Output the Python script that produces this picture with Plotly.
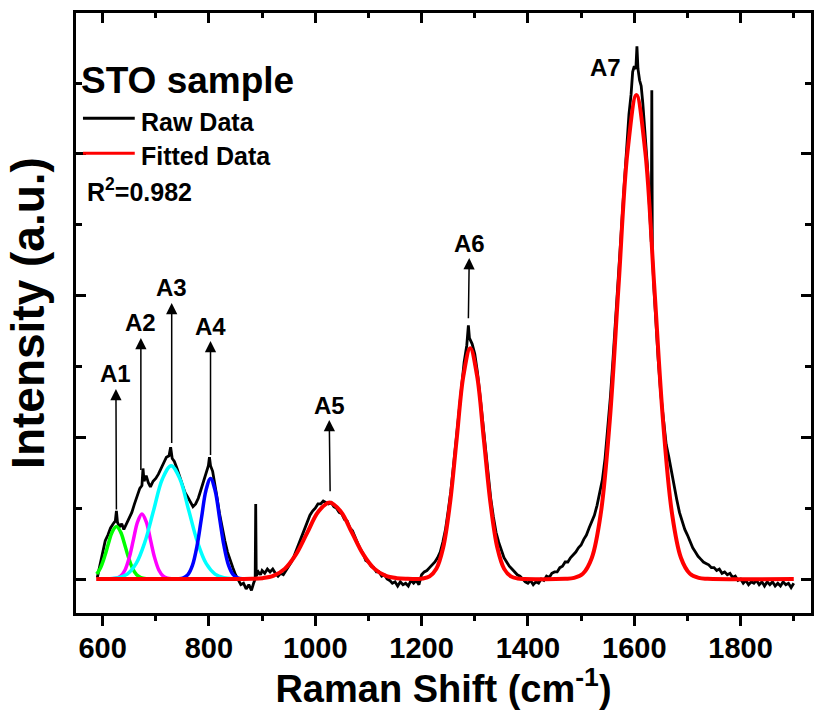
import plotly.graph_objects as go

# ---------------- data ----------------
raw_x = [590, 595, 600, 605, 610, 615, 620, 624, 626, 628, 632, 636, 640, 645, 650, 655, 660, 665, 670, 674,
         676, 678, 682, 686, 690, 695, 700, 705, 710, 715, 720, 725, 728, 731, 735, 740, 745, 750, 755, 760,
         765, 770, 775, 780, 785, 790, 795, 799, 801, 803, 807, 811, 815, 820, 825, 830, 835, 840, 845, 850,
         855, 860, 865, 870, 875, 880, 884, 887, 888, 889, 893, 897, 900, 905, 910, 915, 920, 925, 930, 935,
         940, 945, 950, 955, 960, 965, 970, 975, 980, 985, 990, 995, 1000, 1005, 1010, 1015, 1020, 1025, 1030, 1035,
         1040, 1045, 1050, 1055, 1060, 1065, 1070, 1075, 1080, 1085, 1090, 1095, 1100, 1105, 1110, 1115, 1120, 1125, 1130, 1135,
         1140, 1145, 1150, 1155, 1160, 1165, 1170, 1175, 1180, 1185, 1190, 1195, 1200, 1205, 1210, 1215, 1220, 1225, 1230, 1235,
         1240, 1245, 1250, 1255, 1260, 1265, 1270, 1275, 1280, 1285, 1288, 1290, 1295, 1300, 1305, 1310, 1315, 1320, 1325, 1330,
         1335, 1340, 1345, 1350, 1355, 1360, 1365, 1370, 1375, 1380, 1385, 1390, 1395, 1400, 1405, 1410, 1415, 1420, 1425, 1430,
         1435, 1440, 1445, 1450, 1455, 1460, 1465, 1470, 1475, 1480, 1485, 1490, 1495, 1500, 1505, 1510, 1515, 1520, 1525, 1530,
         1535, 1540, 1545, 1550, 1555, 1560, 1565, 1570, 1575, 1580, 1585, 1590, 1594, 1597, 1600, 1603, 1605, 1607, 1610, 1613,
         1616, 1620, 1625, 1630, 1632, 1633, 1634, 1637, 1640, 1645, 1650, 1655, 1660, 1665, 1670, 1675, 1680, 1685, 1690, 1695,
         1700, 1705, 1710, 1715, 1720, 1725, 1730, 1735, 1740, 1745, 1750, 1755, 1760, 1765, 1770, 1775, 1780, 1785, 1790, 1795,
         1800, 1805, 1810, 1815, 1820, 1825, 1830, 1835, 1840, 1845, 1850, 1855, 1860, 1865, 1870, 1875, 1880, 1885, 1890, 1895,
         1900]
raw_y = [0.01, 0.09, 0.19, 0.27, 0.31, 0.36, 0.39, 0.41, 0.48, 0.40, 0.37, 0.39, 0.35, 0.39, 0.43, 0.47, 0.53, 0.58, 0.64, 0.66,
         0.78, 0.69, 0.73, 0.68, 0.65, 0.69, 0.71, 0.74, 0.78, 0.82, 0.86, 0.87, 0.93, 0.85, 0.83, 0.78, 0.72, 0.66, 0.61, 0.58,
         0.54, 0.51, 0.53, 0.57, 0.63, 0.69, 0.75, 0.80, 0.86, 0.80, 0.76, 0.68, 0.58, 0.46, 0.36, 0.27, 0.19, 0.13, 0.08, 0.03,
         -0.01, -0.04, -0.03, -0.07, -0.04, -0.08, -0.03, 0.00, 0.53, 0.02, 0.05, 0.03, 0.06, 0.04, 0.07, 0.05, 0.07, 0.04, 0.02, 0.04,
         0.03, 0.06, 0.09, 0.12, 0.16, 0.21, 0.26, 0.31, 0.36, 0.40, 0.45, 0.48, 0.50, 0.53, 0.53, 0.55, 0.54, 0.53, 0.54, 0.51,
         0.50, 0.47, 0.46, 0.42, 0.41, 0.36, 0.34, 0.29, 0.25, 0.21, 0.18, 0.13, 0.12, 0.09, 0.08, 0.05, 0.05, 0.02, 0.03, 0.00,
         -0.01, -0.03, -0.02, -0.05, -0.02, -0.04, -0.03, -0.05, -0.01, -0.03, -0.01, -0.04, 0.03, 0.05, 0.06, 0.08, 0.10, 0.12, 0.15, 0.19,
         0.26, 0.35, 0.48, 0.62, 0.80, 0.99, 1.19, 1.37, 1.53, 1.65, 1.79, 1.70, 1.66, 1.59, 1.46, 1.29, 1.10, 0.91, 0.74, 0.57,
         0.44, 0.33, 0.26, 0.20, 0.15, 0.12, 0.09, 0.07, 0.05, 0.03, 0.02, 0.00, -0.02, -0.03, -0.01, -0.04, -0.02, -0.03, 0.00, -0.01,
         0.02, 0.01, 0.04, 0.05, 0.05, 0.08, 0.09, 0.12, 0.12, 0.15, 0.17, 0.19, 0.22, 0.24, 0.28, 0.31, 0.36, 0.40, 0.45, 0.52,
         0.60, 0.70, 0.85, 1.05, 1.28, 1.55, 1.82, 2.10, 2.42, 2.72, 3.00, 3.28, 3.42, 3.58, 3.62, 3.60, 3.76, 3.60, 3.52, 3.48,
         3.36, 3.15, 2.90, 2.52, 2.38, 3.45, 2.30, 2.05, 1.85, 1.55, 1.30, 1.12, 0.95, 0.86, 0.76, 0.64, 0.56, 0.47, 0.40, 0.35,
         0.31, 0.26, 0.22, 0.19, 0.16, 0.14, 0.12, 0.11, 0.10, 0.08, 0.08, 0.06, 0.07, 0.04, 0.05, 0.03, 0.04, 0.01, 0.02, -0.01,
         0.00, -0.03, -0.01, -0.04, -0.02, -0.03, -0.01, -0.04, -0.02, -0.05, -0.02, -0.04, -0.02, -0.05, -0.03, -0.05, -0.02, -0.04, -0.03, -0.06,
         -0.03]

# fitted component A1 (green)
a1_x = [589, 596, 604, 611, 618, 626, 634, 641, 648, 656, 664, 672, 682]
a1_y = [0.035, 0.078, 0.160, 0.251, 0.331, 0.370, 0.331, 0.251, 0.160, 0.078, 0.030, 0.010, 0.002]
# fitted component A2 (magenta)
a2_x = [618, 626, 634, 642, 650, 658, 666, 674, 682, 690, 698, 706, 714, 722, 730]
a2_y = [0.001, 0.005, 0.020, 0.062, 0.149, 0.278, 0.405, 0.459, 0.405, 0.278, 0.149, 0.062, 0.020, 0.005, 0.001]
# fitted component A3 (cyan)
a3_x = [613.5, 630, 646.5, 663, 679.5, 696, 712.5, 729, 745.5, 762, 778.5, 795, 811.5, 828, 844.5]
a3_y = [0.002, 0.009, 0.035, 0.108, 0.260, 0.485, 0.706, 0.800, 0.706, 0.485, 0.260, 0.108, 0.035, 0.009, 0.002]
# fitted component A4 (blue)
a4_x = [743.5, 752, 760.5, 769, 777.5, 786, 794.5, 803, 811.5, 820, 828.5, 837, 845.5, 854, 862.5]
a4_y = [0.002, 0.008, 0.031, 0.096, 0.231, 0.431, 0.627, 0.710, 0.627, 0.431, 0.231, 0.096, 0.031, 0.008, 0.002]
# fitted data A5-A7 on the baseline (red)
fit_x = [588, 859, 880, 901, 922, 943, 964, 985, 1006, 1027, 1048, 1069, 1090, 1111, 1132, 1153, 1174, 1195,
         1202.25, 1215, 1227.75, 1240.5, 1253.25, 1266, 1278.75, 1291.5, 1304.25, 1317, 1329.75, 1342.5, 1355.25,
         1368, 1380.75, 1393.5,
         1470, 1486.75, 1503.5, 1520.25, 1537, 1553.75, 1570.5, 1587.25, 1604, 1620.75, 1637.5, 1654.25, 1671,
         1687.75, 1704.5, 1721.25, 1738, 1900]
fit_y = [0.0, 0.0002, 0.0012, 0.006, 0.0237, 0.0731, 0.1753, 0.3275, 0.4766, 0.54, 0.4766, 0.3275, 0.1753, 0.0731,
         0.0237, 0.006, 0.0012, 0.0002,
         0.0036, 0.0181, 0.0715, 0.2203, 0.5286, 0.9874, 1.4367, 1.628, 1.4367, 0.9874, 0.5286, 0.2203, 0.0715,
         0.0181, 0.0036, 0.0005,
         0.0011, 0.0075, 0.0379, 0.150, 0.4622, 1.1092, 2.0718, 3.0146, 3.416, 3.0146, 2.0718, 1.1092, 0.4622,
         0.150, 0.0379, 0.0075, 0.0011, 0.0]

# peak labels: name, arrow foot (x, y), label centre (x, y)
peak_names = ["A1", "A2", "A3", "A4", "A5", "A6"]
arrow_x = [626, 672, 730, 803, 1028, 1288]
arrow_y = [0.49, 0.77, 0.96, 0.875, 0.62, 1.84]
label_x = [625, 672, 730, 803, 1026, 1290]
label_y = [1.447, 1.807, 2.054, 1.785, 1.228, 2.371]
a7_label = ("A7", 1546.6, 3.613)

x_range = [550, 1932.4]
y_range = [-0.24, 3.995]

FONT = "Liberation Sans, Arial, sans-serif"

fig = go.Figure()
fig.add_trace(go.Scatter(x=raw_x, y=raw_y, mode="lines", line=dict(color="black", width=2.8),
                         showlegend=False, name="Raw Data"))
for xs, ys, col in [(a1_x, a1_y, "#00ff00"), (a2_x, a2_y, "#ff00ff"),
                    (a3_x, a3_y, "#00ffff"), (a4_x, a4_y, "#0000ff")]:
    fig.add_trace(go.Scatter(x=xs, y=ys, mode="lines", line=dict(color=col, width=3.5, shape="spline"),
                             showlegend=False))
fig.add_trace(go.Scatter(x=fit_x, y=fit_y, mode="lines", line=dict(color="#ff0000", width=4, shape="spline"),
                         showlegend=False, name="Fitted Data"))
# empty trace to carry the top axis
fig.add_trace(go.Scatter(x=[], y=[], xaxis="x2", yaxis="y", showlegend=False))

ann = []
for n, ax_, ay_, lx, ly in zip(peak_names, arrow_x, arrow_y, label_x, label_y):
    ann.append(dict(x=ax_, y=ay_, xref="x", yref="y",
                    ax=lx, ay=ly, axref="x", ayref="y", text="<b>%s</b>" % n,
                    showarrow=True, arrowside="start", arrowwidth=1.5,
                    startarrowhead=2, startarrowsize=1.5, arrowhead=2, arrowsize=1.5,
                    arrowcolor="black", standoff=0, startstandoff=0,
                    font=dict(family=FONT, size=24, color="black")))
ann.append(dict(x=a7_label[1], y=a7_label[2], xref="x", yref="y", text="<b>%s</b>" % a7_label[0],
                showarrow=False, font=dict(family=FONT, size=24, color="black")))

W, H = 814, 710
L, R, T, B = 76, 0, 13, 97
pw, ph = W - L - R, H - T - B


def px(xp):
    return (xp - L) / pw


def py(yp):
    return (H - B - yp) / ph


ann += [
    dict(x=px(79), y=py(80), xref="paper", yref="paper", xanchor="left", yanchor="middle",
         text="<b>STO sample</b>", showarrow=False, font=dict(family=FONT, size=37, color="black")),
    dict(x=px(139.5), y=py(122), xref="paper", yref="paper", xanchor="left", yanchor="middle",
         text="<b>Raw Data</b>", showarrow=False, font=dict(family=FONT, size=25, color="black")),
    dict(x=px(139.5), y=py(156), xref="paper", yref="paper", xanchor="left", yanchor="middle",
         text="<b>Fitted Data</b>", showarrow=False, font=dict(family=FONT, size=25, color="black")),
    dict(x=px(85), y=py(190), xref="paper", yref="paper", xanchor="left", yanchor="middle",
         text="<b>R<sup>2</sup>=0.982</b>", showarrow=False, font=dict(family=FONT, size=25, color="black")),
]

shapes = [
    dict(type="line", xref="paper", yref="paper", x0=px(83), x1=px(135), y0=py(118.3), y1=py(118.3),
         line=dict(color="black", width=3)),
    dict(type="line", xref="paper", yref="paper", x0=px(83), x1=px(135), y0=py(153.3), y1=py(153.3),
         line=dict(color="#ff0000", width=3)),
]

axis_common = dict(showgrid=False, zeroline=False, showline=True, linecolor="black", linewidth=3,
                   tickcolor="black", tickwidth=3)

fig.update_layout(
    width=W, height=H, margin=dict(l=L, r=R, t=T, b=B),
    paper_bgcolor="white", plot_bgcolor="white", showlegend=False,
    xaxis=dict(range=x_range, tick0=600, dtick=200, ticks="outside", ticklen=10,
               minor=dict(ticks="outside", ticklen=5, tickwidth=3, tickcolor="black", dtick=100, tick0=600),
               tickfont=dict(family=FONT, size=29, color="black", weight="bold"),
               ticklabelstandoff=-3,
               title=dict(text="Raman Shift (cm<sup>-1</sup>)", standoff=6,
                          font=dict(family=FONT, size=38, color="black", weight="bold")),
               **axis_common),
    xaxis2=dict(range=x_range, overlaying="x", side="top", anchor="y", tick0=600, dtick=200,
                ticks="inside", ticklen=10, showticklabels=False,
                minor=dict(ticks="inside", ticklen=5, tickwidth=3, tickcolor="black", dtick=100, tick0=600),
                **axis_common),
    yaxis=dict(range=y_range, tick0=0, dtick=1, ticks="inside", ticklen=10, mirror="ticks",
               showticklabels=False,
               minor=dict(ticks="inside", ticklen=6, tickwidth=3, tickcolor="black", dtick=0.5, tick0=0),
               title=dict(text="Intensity (a.u.)", standoff=14,
                          font=dict(family=FONT, size=46, color="black", weight="bold")),
               **axis_common),
    annotations=ann, shapes=shapes,
)

fig.write_html("out.html")
